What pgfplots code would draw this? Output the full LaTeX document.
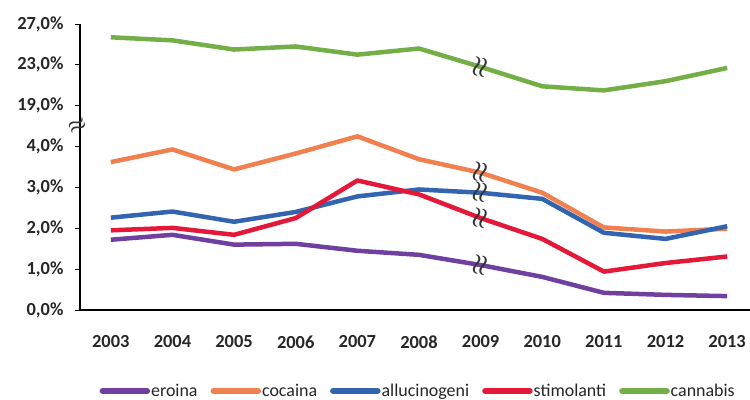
\documentclass[border=0pt]{standalone}
\usepackage{fontspec}
\setmainfont{Carlito}
\usepackage{pgfplots}
\usepackage{pgfplotstable}
\pgfplotsset{compat=1.18}

\definecolor{cEro}{RGB}{112,64,160}
\definecolor{cCoc}{RGB}{240,128,80}
\definecolor{cAll}{RGB}{50,100,175}
\definecolor{cSti}{RGB}{228,24,56}
\definecolor{cCan}{RGB}{115,175,70}

% prevalenze in percentuale
\pgfplotstableread{
year eroina cocaina allucinogeni stimolanti cannabis
2003 1.72 3.62 2.26 1.95 25.7
2004 1.84 3.93 2.41 2.01 25.4
2005 1.60 3.44 2.16 1.84 24.5
2006 1.62 3.83 2.40 2.25 24.8
2007 1.45 4.25 2.78 3.17 24.0
2008 1.35 3.69 2.95 2.83 24.6
2009 1.10 3.36 2.87 2.25 22.8
2010 0.81 2.87 2.72 1.74 20.9
2011 0.42 2.02 1.89 0.94 20.5
2012 0.37 1.92 1.74 1.15 21.4
2013 0.34 1.99 2.05 1.31 22.7
}\datatable

\newcommand\bigbrk{\fontsize{28}{28}\selectfont\boldmath}
\newcommand\axbrk{\fontsize{22}{22}\selectfont\boldmath}

\begin{document}
\begin{tikzpicture}
\begin{axis}[
  scale only axis,
  width=670bp, height=286bp,
  xmin=2002.5, xmax=2013.37,
  ymin=0, ymax=7,
  axis lines*=left,
  axis line style={black, line width=1.2bp},
  tick align=outside,
  major tick length=5bp,
  tick style={black, line width=1bp},
  xtick={2003,...,2013},
  xticklabels={2003,2004,2005,2006,2007,2008,2009,2010,2011,2012,2013},
  major x tick style={draw=none},
  extra x ticks={2003.5,2004.5,2005.5,2006.5,2007.5,2008.5,2009.5,2010.5,2011.5,2012.5},
  extra x tick labels={},
  extra x tick style={major x tick style={black, line width=1bp}},
  ytick={0,1,2,3,4,5,6,7},
  yticklabels={{0,0\%},{1,0\%},{2,0\%},{3,0\%},{4,0\%},{19,0\%},{23,0\%},{27,0\%}},
  ticklabel style={font=\fontsize{18.5}{20}\selectfont\bfseries, text=black!85},
  xticklabel style={yshift=-17bp},
  yticklabel style={xshift=-8bp},
  clip=false,
  legend columns=5,
  legend style={draw=none, at={(0.504,-0.283)}, anchor=center,
    font=\fontsize{18}{19}\selectfont, text=black!85,
    nodes={inner xsep=1bp, inner ysep=0bp},
    /tikz/every odd column/.append style={column sep=0bp},
    /tikz/every even column/.append style={column sep=12bp}},
  legend image code/.code={\draw[#1, line width=6.5bp, line cap=round] (3bp,0bp) -- (47bp,0bp);},
  every axis plot/.append style={line width=4.5bp, line join=round},
]
\addplot[cEro] table[x=year, y=eroina] {\datatable};
\addlegendentry{eroina}
\addplot[cCoc] table[x=year, y=cocaina] {\datatable};
\addlegendentry{cocaina}
\addplot[cAll] table[x=year, y=allucinogeni] {\datatable};
\addlegendentry{allucinogeni}
\addplot[cSti] table[x=year, y=stimolanti] {\datatable};
\addlegendentry{stimolanti}
\addplot[cCan] table[x=year, y expr={5+(\thisrow{cannabis}-19)/4}] {\datatable};
\addlegendentry{cannabis}

% segni di interruzione sulle serie
\pgfplotsset{brk/.style={only marks, mark=text,
  restrict x to domain=2009:2009,
  text mark as node=true,
  text mark={$\approx$},
  text mark style={font=\bigbrk, rotate=78, text=black!80, inner sep=0pt}}}
\addplot[brk, forget plot] table[x=year, y=eroina] {\datatable};
\addplot[brk, forget plot] table[x=year, y=cocaina] {\datatable};
\addplot[brk, forget plot] table[x=year, y=allucinogeni] {\datatable};
\addplot[brk, forget plot] table[x=year, y=stimolanti] {\datatable};
\addplot[brk, forget plot] table[x=year, y expr={5+(\thisrow{cannabis}-19)/4}] {\datatable};

\node[font=\axbrk, text=black!80, rotate=25, inner sep=0pt] at (rel axis cs:-0.004,0.6429) {$\approx$};
\end{axis}
\pgfresetboundingbox
\path (current axis.south west) ++(-80bp,-90bp) rectangle ++(750bp,400bp);
\end{tikzpicture}
\end{document}
